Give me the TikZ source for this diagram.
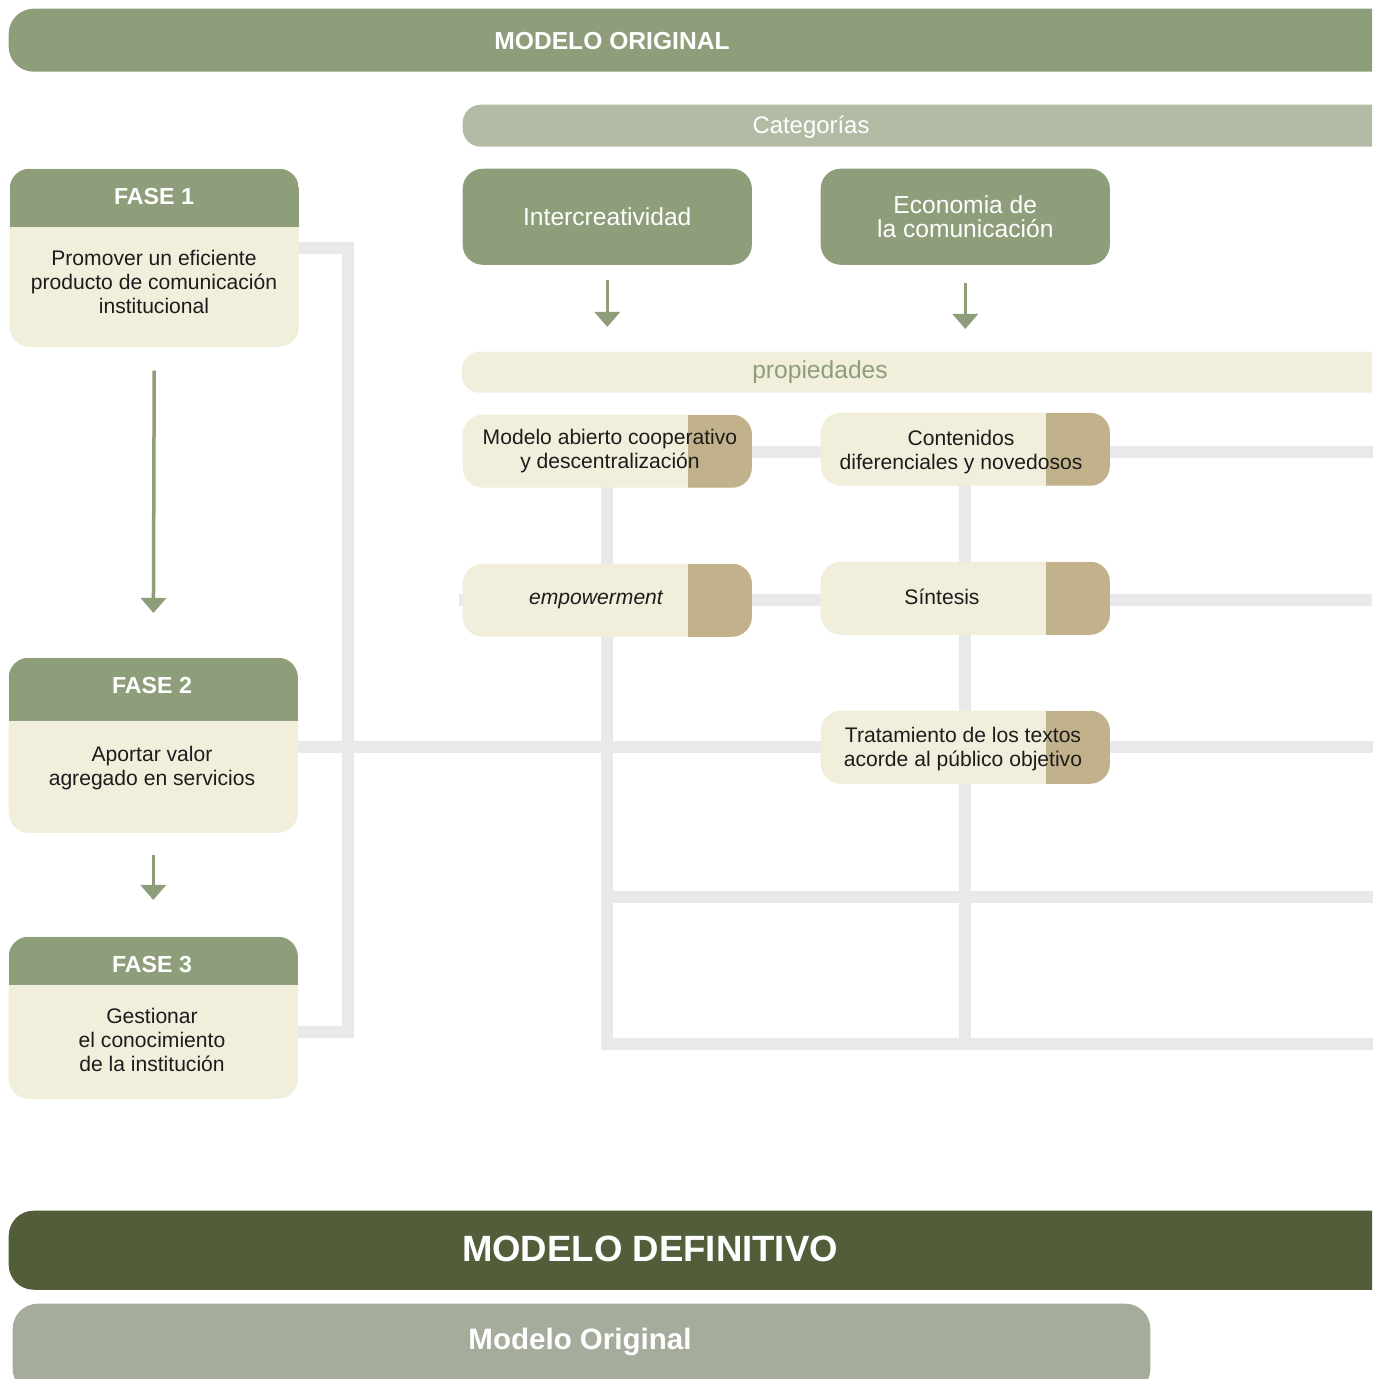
\documentclass[tikz,border=0pt]{standalone}
\usepackage{fontspec}
\setmainfont{Liberation Sans}
\usetikzlibrary{
    arrows.meta,
    positioning,
    backgrounds
}
\definecolor{ink}{RGB}{28,28,28}
\definecolor{sage}{RGB}{143,158,122}
\definecolor{sagelight}{RGB}{178,188,165}
\definecolor{cream}{RGB}{241,238,220}
\definecolor{khaki}{RGB}{194,178,140}
\definecolor{railgrey}{RGB}{233,233,233}
\definecolor{olive}{RGB}{82,94,58}
\definecolor{greyolive}{RGB}{166,172,156}
\tikzset{
    bar/.style={
        rectangle,
        rounded corners=0.25cm,
        inner sep=0pt,
        anchor=north west
    },
    bartext/.style={
        font=\bfseries\fontsize{7}{8}\selectfont,
        text=white
    },
    catbox/.style={
        rectangle,
        rounded corners=0.2cm,
        fill=sage,
        minimum width=2.89cm,
        minimum height=0.96cm,
        inner sep=0pt,
        anchor=north west,
        font=\fontsize{7}{6.8}\selectfont,
        text=white,
        align=center
    },
    propbox/.style={
        rectangle,
        rounded corners=0.2cm,
        fill=cream,
        minimum width=2.89cm,
        minimum height=0.73cm,
        inner sep=0pt,
        anchor=north west,
        path picture={
            \fill[khaki, sharp corners] ([xshift=-0.64cm]path picture bounding box.south east)
                rectangle (path picture bounding box.north east);
        }
    },
    fasebox/.style={
        rectangle,
        rounded corners=0.2cm,
        fill=cream,
        minimum width=2.89cm,
        inner sep=0pt,
        anchor=north west,
        path picture={
            \fill[sage, sharp corners] (path picture bounding box.north west)
                rectangle ([yshift=-#1]path picture bounding box.north east);
        }
    },
    fasetitle/.style={
        font=\bfseries\fontsize{6.6}{8}\selectfont,
        text=white
    },
    bodytext/.style={
        font=\fontsize{6}{6.9}\selectfont,
        text=ink,
        align=center
    },
    flowarrow/.style={
        draw=sage,
        line width=0.035cm,
        -{Triangle[width=0.25cm,length=0.15cm]}
    },
    railline/.style={
        draw=railgrey,
        line width=0.12cm,
        line cap=rect
    }
}

\begin{document}
\begin{tikzpicture}[x=0.01cm, y=-0.01cm]
\useasboundingbox (0,0) rectangle (1372,1379);
\clip (0,0) rectangle (1372,1379);

% Top bars
\node[bar, fill=sage, minimum width=14cm, minimum height=0.63cm] (origbar) at (8,8) {};
\node[bartext] (origtxt) at (612,41) {MODELO ORIGINAL};
\node[bar, fill=sagelight, rounded corners=0.18cm, minimum width=9.5cm, minimum height=0.42cm] (catbar) at (462,104) {};
\node[font=\fontsize{6.8}{8}\selectfont, text=white] (cattxt) at (811,127) {Categorías};

% Categories
\node[catbox] (inter) at (462,168) {Intercreatividad};
\node[catbox] (econ) at (820,168) {Economia de\\la comunicación};

\node[bar, fill=cream, rounded corners=0.18cm, minimum width=9.5cm, minimum height=0.41cm] (propbar) at (461,351) {};
\node[font=\fontsize{7}{8}\selectfont, text=sage] (proptxt) at (820,372) {propiedades};

\draw[flowarrow, shorten <=0.15cm, shorten >=0.24cm] (inter.south) -- (inter.south |- propbar.north);
\draw[flowarrow, shorten <=0.18cm, shorten >=0.22cm] (econ.south) -- (econ.south |- propbar.north);

% Properties
\node[propbox] (abierto) at (462,414) {};
\node[bodytext] (abiertotxt) at (610,451) {Modelo abierto cooperativo\\y descentralización};
\node[propbox] (contenidos) at (820,412) {};
\node[bodytext] (contenidostxt) at (961,452) {Contenidos\\diferenciales y novedosos};
\node[propbox] (empower) at (462,563) {};
\node[bodytext, font=\itshape\fontsize{6}{6.9}\selectfont] (empowertxt) at (596,600) {empowerment};
\node[propbox] (sintesis) at (820,561) {};
\node[bodytext] (sintesistxt) at (942,597) {Síntesis};
\node[propbox] (tratamiento) at (820,710) {};
\node[bodytext] (tratamientotxt) at (963,749) {Tratamiento de los textos\\acorde al público objetivo};

% Phases
\node[fasebox=0.58cm, minimum height=1.78cm] (f1) at (9,168) {};
\node[fasetitle] (f1title) at (154,197) {FASE 1};
\node[bodytext] (f1text) at (154,282) {Promover un eficiente\\producto de comunicación\\institucional};
\node[fasebox=0.63cm, minimum height=1.75cm] (f2) at (8,657) {};
\node[fasetitle] (f2title) at (152,686) {FASE 2};
\node[bodytext] (f2text) at (152,768) {Aportar valor\\agregado en servicios};
\node[fasebox=0.48cm, minimum height=1.62cm] (f3) at (8,936) {};
\node[fasetitle] (f3title) at (152,965) {FASE 3};
\node[bodytext] (f3text) at (152,1040) {Gestionar\\el conocimiento\\de la institución};

\draw[flowarrow, shorten <=0.23cm, shorten >=0.44cm] (f1.south) -- (f2.north);
\draw[flowarrow, shorten <=0.21cm, shorten >=0.36cm] (f2.south) -- (f3.north);

% Grid rails
\begin{pgfonlayer}{background}
    \fill[white] (0,0) rectangle (1372,1379);
    \draw[railline] (abierto.center |- 0,452) -- (1372,452);
    \draw[railline, line cap=butt] ([xshift=-0.03cm]empower.west |- 0,600) -- (1372,600);
    \draw[railline] (f2.east |- 0,747) -- (1372,747);
    \draw[railline] (abierto.south |- 0,897) -- (1372,897);
    \draw[railline] (abierto.south) -- (abierto.south |- 0,1044) -- (1372,1044);
    \draw[railline] (contenidos.south) -- (contenidos.south |- 0,1044);
    % bracket
    \draw[railline] (f1.east |- 0,248) -- (348,248) -- (348,1032) -- (f3.east |- 0,1032);
\end{pgfonlayer}

% Bottom bars
\node[bar, fill=olive, minimum width=14cm, minimum height=0.79cm] (defbar) at (8,1210) {};
\node[bartext, font=\bfseries\fontsize{10.4}{12}\selectfont] (deftxt) at (650,1249) {MODELO DEFINITIVO};
\node[bar, fill=greyolive, minimum width=11.37cm, minimum height=0.9cm] (origbar2) at (12,1303) {};
\node[bartext, font=\bfseries\fontsize{8.4}{10}\selectfont] (orig2txt) at (580,1342) {Modelo Original};
\end{tikzpicture}
\end{document}
